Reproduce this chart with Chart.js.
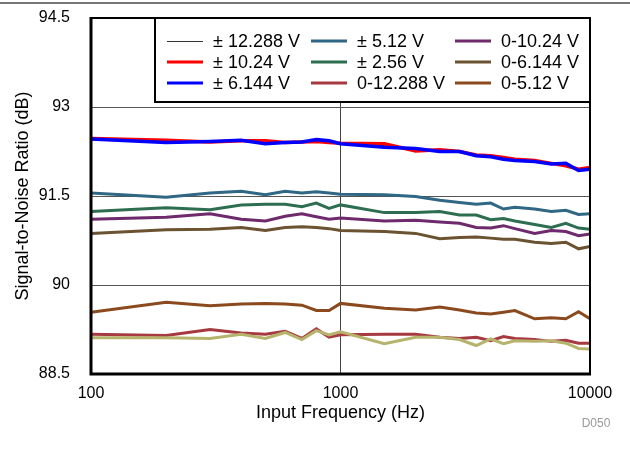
<!DOCTYPE html>
<html>
<head>
<meta charset="utf-8">
<script src="https://cdn.jsdelivr.net/npm/chart.js@4.4.0/dist/chart.umd.min.js"></script>
<style>
  html, body { margin: 0; padding: 0; background: #fff; }
  #wrap { width: 630px; height: 466px; }
</style>
</head>
<body>
<div id="wrap"><canvas id="snrChart" width="630" height="466"></canvas></div>
<script>
// Input frequency (Hz) and SNR (dB) per input range
const freqs = [100, 200, 300, 400, 500, 600, 700, 800, 900, 1000, 1500, 2000, 2500, 3000, 3500, 4000, 4500, 5000, 6000, 7000, 8000, 9000, 10000];

const bip12288 = [92.46, 92.42, 92.42, 92.43, 92.41, 92.40, 92.41, 92.43, 92.41, 92.38, 92.35, 92.28, 92.26, 92.25, 92.19, 92.17, 92.13, 92.11, 92.09, 92.04, 92.03, 91.94, 91.96];
const bip1024 = [92.47, 92.44, 92.41, 92.43, 92.43, 92.40, 92.41, 92.42, 92.40, 92.39, 92.38, 92.26, 92.28, 92.25, 92.19, 92.18, 92.15, 92.12, 92.10, 92.05, 92.01, 91.95, 91.98];
const bip6144 = [92.46, 92.40, 92.42, 92.44, 92.38, 92.40, 92.41, 92.45, 92.43, 92.38, 92.32, 92.30, 92.25, 92.25, 92.18, 92.16, 92.12, 92.10, 92.08, 92.04, 92.05, 91.93, 91.95];
const bip512 = [91.55, 91.48, 91.55, 91.58, 91.52, 91.58, 91.55, 91.57, 91.55, 91.53, 91.52, 91.49, 91.43, 91.39, 91.36, 91.38, 91.28, 91.31, 91.28, 91.24, 91.26, 91.19, 91.20];
const bip256 = [91.24, 91.30, 91.27, 91.35, 91.36, 91.36, 91.32, 91.38, 91.29, 91.35, 91.22, 91.22, 91.24, 91.18, 91.18, 91.10, 91.12, 91.08, 91.02, 90.97, 91.04, 90.96, 90.94];
const uni12288 = [89.17, 89.15, 89.25, 89.19, 89.17, 89.22, 89.10, 89.26, 89.12, 89.16, 89.17, 89.17, 89.12, 89.10, 89.12, 89.06, 89.13, 89.10, 89.08, 89.05, 89.07, 89.02, 89.02];
const uni1024 = [91.11, 91.14, 91.20, 91.11, 91.08, 91.16, 91.20, 91.15, 91.11, 91.13, 91.08, 91.09, 91.06, 91.04, 90.97, 90.96, 91.00, 90.95, 90.87, 90.92, 90.90, 90.83, 90.86];
const uni6144 = [90.87, 90.93, 90.94, 90.97, 90.92, 90.97, 90.98, 90.97, 90.95, 90.92, 90.90, 90.87, 90.78, 90.80, 90.81, 90.79, 90.77, 90.77, 90.72, 90.70, 90.72, 90.61, 90.65];
const uni512 = [89.54, 89.71, 89.65, 89.68, 89.69, 89.68, 89.66, 89.57, 89.57, 89.69, 89.61, 89.58, 89.63, 89.58, 89.53, 89.51, 89.54, 89.57, 89.43, 89.45, 89.43, 89.55, 89.43];
// extra trace drawn in the plot but not listed in the legend
const extraTrace = [89.11, 89.11, 89.10, 89.17, 89.10, 89.20, 89.08, 89.23, 89.16, 89.21, 89.01, 89.12, 89.12, 89.08, 88.98, 89.09, 89.01, 89.06, 89.05, 89.06, 89.02, 88.93, 88.92];

const yTicks = [88.5, 90, 91.5, 93, 94.5];
const xTicks = [100, 1000, 10000];

const FONT = "'Liberation Sans', Arial, sans-serif";

function pts(values) {
  return freqs.map((f, i) => ({ x: f, y: values[i] }));
}

function series(label, values, color, width, order, inLegend) {
  return {
    label: label,
    data: pts(values),
    borderColor: color,
    backgroundColor: color,
    borderWidth: width,
    pointRadius: 0,
    tension: 0,
    fill: false,
    order: order,
    inLegend: inLegend !== false
  };
}

const datasets = [
  series("\u00B1 12.288 V", bip12288, "#333333", 1, 5),
  series("\u00B1 10.24 V", bip1024, "#ff0000", 3.5, 4),
  series("\u00B1 6.144 V", bip6144, "#0000ff", 3.5, 3),
  series("\u00B1 5.12 V", bip512, "#2f6784", 3, 0),
  series("\u00B1 2.56 V", bip256, "#2e6e50", 3, 0),
  series("0-12.288 V", uni12288, "#a63a40", 3, 2),
  series("0-10.24 V", uni1024, "#6e2a6c", 3, 0),
  series("0-6.144 V", uni6144, "#6b5230", 3, 0),
  series("0-5.12 V", uni512, "#8b4a1e", 3, 0),
  series("", extraTrace, "#b6b46c", 3, 1, false)
];

// frame, legend box, page decorations
const decorations = {
  id: "decorations",
  beforeDraw(chart) {
    const ctx = chart.ctx;
    ctx.save();
    ctx.strokeStyle = "#777";
    ctx.lineWidth = 2;
    ctx.beginPath();
    ctx.moveTo(0, 3);
    ctx.lineTo(chart.width, 3);
    ctx.stroke();
    ctx.fillStyle = "#9a9a9a";
    ctx.font = "12px " + FONT;
    ctx.textAlign = "center";
    ctx.textBaseline = "middle";
    ctx.fillText("D050", 596, 424);
    ctx.restore();
  },
  afterDatasetsDraw(chart) {
    const ctx = chart.ctx;
    const a = chart.chartArea;
    ctx.save();
    ctx.strokeStyle = "#000";
    ctx.lineWidth = 2;
    ctx.strokeRect(a.left, a.top, a.right - a.left, a.bottom - a.top);
    ctx.lineWidth = 3;
    ctx.beginPath();
    ctx.moveTo(a.left, a.top - 1);
    ctx.lineTo(a.left, a.bottom);
    ctx.lineTo(a.right + 1, a.bottom);
    ctx.stroke();

    // legend box
    const bx = 155, by = a.top, bw = a.right - 155, bh = 84;
    ctx.fillStyle = "#fff";
    ctx.fillRect(bx, by, bw, bh);
    ctx.lineWidth = 2;
    ctx.strokeRect(bx, by, bw, bh);

    const items = chart.data.datasets.filter(d => d.inLegend);
    ctx.font = "18px " + FONT;
    ctx.textBaseline = "middle";
    ctx.textAlign = "left";
    items.forEach((d, i) => {
      const col = Math.floor(i / 3), row = i % 3;
      const lx = 167 + col * 144;
      const thin = d.borderWidth <= 1;
      const ly = a.top + 23 + row * 21 + (thin ? 0.5 : 0);
      ctx.strokeStyle = d.borderColor;
      ctx.lineWidth = thin ? 1 : 3;
      ctx.beginPath();
      ctx.moveTo(lx, ly);
      ctx.lineTo(lx + 36, ly);
      ctx.stroke();
      ctx.fillStyle = "#000";
      ctx.fillText(d.label, lx + 46, a.top + 24 + row * 21);
    });
    ctx.restore();
  }
};

const ctx = document.getElementById("snrChart").getContext("2d");
const snrChart = new Chart(ctx, {
  type: "line",
  data: { datasets: datasets },
  plugins: [decorations],
  options: {
    responsive: false,
    animation: false,
    layout: { padding: { left: 12, right: 40, top: 18, bottom: 42 } },
    plugins: {
      legend: { display: false },
      tooltip: { enabled: false }
    },
    scales: {
      x: {
        type: "logarithmic",
        min: 100,
        max: 10000,
        afterBuildTicks: s => { s.ticks = xTicks.map(v => ({ value: v })); },
        afterFit: s => { s.height = 50; },
        ticks: {
          color: "#000",
          font: { family: FONT, size: 16 },
          padding: 10,
          maxRotation: 0,
          callback: v => String(v)
        },
        grid: { color: "#444", lineWidth: 1, drawTicks: false },
        border: { display: false },
        title: {
          display: true,
          text: "Input Frequency (Hz)",
          color: "#000",
          font: { family: FONT, size: 18 },
          padding: 0
        }
      },
      y: {
        min: 88.5,
        max: 94.5,
        afterBuildTicks: s => { s.ticks = yTicks.map(v => ({ value: v })); },
        afterFit: s => { s.width = 79; s.paddingTop = 0; s.paddingBottom = 0; },
        ticks: {
          color: "#000",
          font: { family: FONT, size: 16 },
          padding: 21
        },
        grid: { color: "#555", lineWidth: 1, drawTicks: false },
        border: { display: false },
        title: {
          display: true,
          text: "Signal-to-Noise Ratio (dB)",
          color: "#000",
          font: { family: FONT, size: 18 },
          padding: 0
        }
      }
    }
  }
});
</script>
</body>
</html>
